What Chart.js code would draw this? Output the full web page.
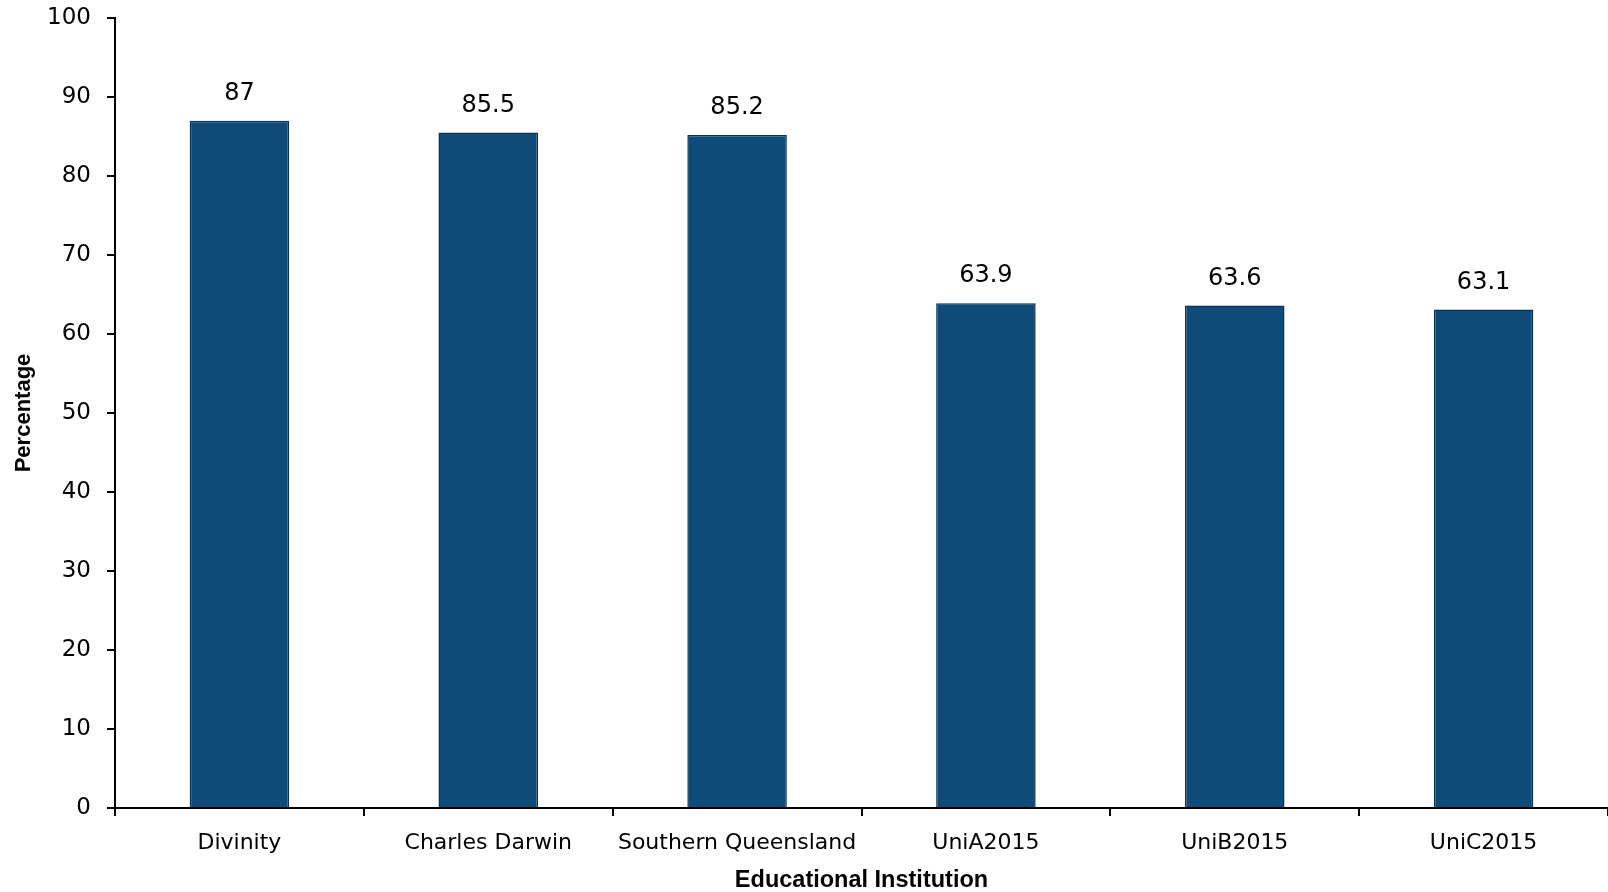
<!DOCTYPE html>
<html>
<head>
<meta charset="utf-8">
<script src="https://cdn.jsdelivr.net/npm/chart.js@4.4.0/dist/chart.umd.min.js"></script>
<style>
  html, body { margin: 0; padding: 0; background: #fff; }
  #wrap { width: 1608px; height: 892px; }
</style>
</head>
<body>
<div id="wrap"><canvas id="chart"></canvas></div>
<script>
const institutions = ['Divinity', 'Charles Darwin', 'Southern Queensland', 'UniA2015', 'UniB2015', 'UniC2015'];
const percentages = [87, 85.5, 85.2, 63.9, 63.6, 63.1];

const ctx = document.getElementById('chart').getContext('2d');

// values above bars
const barLabels = {
    id: 'barLabels',
    afterDatasetsDraw(chart) {
        const c = chart.ctx;
        const meta = chart.getDatasetMeta(0);
        c.save();
        c.font = '24px "DejaVu Sans", sans-serif';
        c.fillStyle = '#000';
        c.textAlign = 'center';
        c.textBaseline = 'bottom';
        meta.data.forEach((bar, i) => {
            c.fillText(String(percentages[i]), bar.x, bar.y - 15);
        });
        c.restore();
    }
};

new Chart(ctx, {
    type: 'bar',
    data: {
        labels: institutions,
        datasets: [{
            data: percentages,
            backgroundColor: '#0f4b78',
            borderColor: '#0a3352',
            borderWidth: 1.5,
            categoryPercentage: 1,
            barPercentage: 0.4
        }]
    },
    options: {
        responsive: true,
        maintainAspectRatio: false,
        animation: false,
        layout: { padding: 0 },
        plugins: {
            legend: { display: false },
            tooltip: { enabled: false }
        },
        scales: {
            x: {
                offset: true,
                afterFit(scale) { scale.height = 84; },
                grid: {
                    offset: true,
                    drawOnChartArea: false,
                    drawTicks: true,
                    tickLength: 8,
                    color: '#000',
                    lineWidth: 2
                },
                border: { color: '#000', width: 2 },
                ticks: {
                    color: '#000',
                    padding: 14,
                    font: { family: '"DejaVu Sans", sans-serif', size: 22 },
                    maxRotation: 0
                },
                title: {
                    display: true,
                    text: 'Educational Institution',
                    color: '#000',
                    padding: { top: 0, bottom: -3 },
                    font: { family: '"Liberation Sans", Arial, sans-serif', size: 23.5, weight: 'bold' }
                }
            },
            y: {
                min: 0,
                max: 100,
                afterFit(scale) {
                    scale.width = 115;
                    scale.paddingTop = 18;
                },
                ticks: {
                    stepSize: 10,
                    color: '#000',
                    padding: 16,
                    font: { family: '"DejaVu Sans", sans-serif', size: 23 }
                },
                grid: {
                    drawOnChartArea: false,
                    drawTicks: true,
                    tickLength: 8,
                    color: '#000',
                    lineWidth: 2
                },
                border: { color: '#000', width: 2 },
                title: {
                    display: true,
                    text: 'Percentage',
                    color: '#000',
                    padding: { top: 11, bottom: 0 },
                    font: { family: '"Liberation Sans", Arial, sans-serif', size: 22, weight: 'bold' }
                }
            }
        }
    },
    plugins: [barLabels]
});
</script>
</body>
</html>
